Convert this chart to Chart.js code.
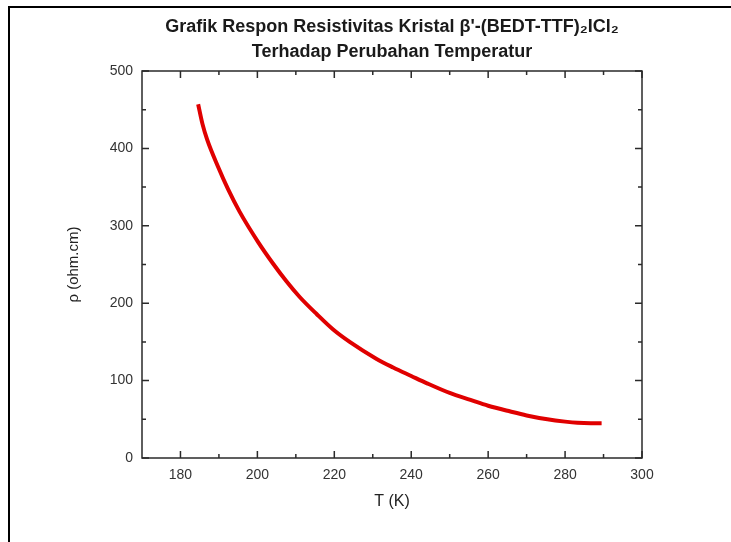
<!DOCTYPE html>
<html>
<head>
<meta charset="utf-8">
<script src="https://cdn.jsdelivr.net/npm/chart.js@4/dist/chart.umd.min.js"></script>
<style>
    html, body { margin: 0; padding: 0; background: #fff; }
    #wrap { position: relative; width: 731px; height: 542px; }
    #frame {
        position: absolute; left: 8px; top: 6px; right: 0; bottom: 0;
        border-top: 2px solid #000; border-left: 2px solid #000;
        pointer-events: none;
    }
</style>
</head>
<body>
<div id="wrap">
    <canvas id="rho-chart" width="731" height="542"></canvas>
    <div id="frame"></div>
</div>
<script>
// Suhu (K) dan resistivitas (ohm.cm)
const temperature = [184.6, 185.7, 186.9, 189.8, 192.4, 195.4, 200.2, 204.1, 207.6, 211.0, 215.4, 219.7, 224.0, 231.0, 235.3, 240.0, 244.1, 250.0, 255.4, 260.0, 265.8, 270.0, 275.4, 280.0, 283.2, 286.7, 289.5];
const resistivity = [457, 432, 412, 376, 347, 318, 279, 251, 228, 208, 186, 166, 150, 128, 117, 106, 96.5, 84, 75, 67.5, 60, 55, 50, 47, 45.5, 45, 45];

const xTicks = [180, 200, 220, 240, 260, 280, 300];
const xMinorTicks = [190, 210, 230, 250, 270, 290];
const yTicks = [0, 100, 200, 300, 400, 500];
const yMinorTicks = [50, 150, 250, 350, 450];

const titleLines = ['Grafik Respon Resistivitas Kristal β\'-(BEDT-TTF)₂ICl₂', 'Terhadap Perubahan Temperatur'];

const FONT = "'Liberation Sans', Arial, 'DejaVu Sans', sans-serif";

// kotak plot + tick ke dalam di keempat sisi (gaya Origin)
const frameTicks = {
    id: 'frameTicks',
    afterDraw(chart) {
        const { ctx, chartArea: a, scales: { x, y } } = chart;
        ctx.save();
        ctx.strokeStyle = '#2a2a2a';
        ctx.lineWidth = 1.5;
        ctx.strokeRect(a.left, a.top, a.right - a.left, a.bottom - a.top);
        ctx.beginPath();
        const tickX = (vals, len) => vals.forEach(v => {
            const px = x.getPixelForValue(v);
            ctx.moveTo(px, a.bottom); ctx.lineTo(px, a.bottom - len);
            ctx.moveTo(px, a.top); ctx.lineTo(px, a.top + len);
        });
        const tickY = (vals, len) => vals.forEach(v => {
            const py = y.getPixelForValue(v);
            ctx.moveTo(a.left, py); ctx.lineTo(a.left + len, py);
            ctx.moveTo(a.right, py); ctx.lineTo(a.right - len, py);
        });
        tickX(xTicks, 7);
        tickX(xMinorTicks, 4);
        tickY(yTicks, 7);
        tickY(yMinorTicks, 4);
        ctx.stroke();
        ctx.restore();
    }
};

const ctx = document.getElementById('rho-chart').getContext('2d');
new Chart(ctx, {
    type: 'line',
    data: {
        datasets: [{
            label: 'ρ',
            data: temperature.map((t, i) => ({ x: t, y: resistivity[i] })),
            borderColor: 'rgb(224, 0, 0)',
            borderWidth: 4,
            pointRadius: 0,
            cubicInterpolationMode: 'monotone',
            fill: false
        }]
    },
    options: {
        responsive: false,
        animation: false,
        layout: { padding: { top: 8, left: 0, right: 89, bottom: 0 } },
        scales: {
            x: {
                type: 'linear',
                min: 170,
                max: 300,
                afterBuildTicks: s => { s.ticks = xTicks.map(v => ({ value: v })); },
                afterFit: s => { s.height = 84; },
                grid: { display: false, drawTicks: false },
                border: { display: false },
                ticks: { padding: 9, color: '#333', font: { family: FONT, size: 14 } },
                title: {
                    display: true,
                    text: 'T (K)',
                    color: '#222',
                    font: { family: FONT, size: 16 },
                    padding: { top: 0, bottom: 31 }
                }
            },
            y: {
                type: 'linear',
                min: 0,
                max: 500,
                afterBuildTicks: s => { s.ticks = yTicks.map(v => ({ value: v })); },
                afterFit: s => { s.width = 142; },
                grid: { display: false, drawTicks: false },
                border: { display: false },
                ticks: { padding: 9, color: '#333', font: { family: FONT, size: 14 } },
                title: {
                    display: true,
                    text: 'ρ (ohm.cm)',
                    color: '#222',
                    font: { family: FONT, size: 15 },
                    padding: { top: 65, bottom: 0 }
                }
            }
        },
        plugins: {
            legend: { display: false },
            tooltip: { enabled: false },
            title: {
                display: true,
                fullSize: false,
                text: titleLines,
                color: '#1a1a1a',
                font: { family: FONT, size: 18, weight: 'bold', lineHeight: 25 / 18 },
                padding: { top: 6.5, bottom: 6.5 }
            }
        }
    },
    plugins: [frameTicks]
});
</script>
</body>
</html>
